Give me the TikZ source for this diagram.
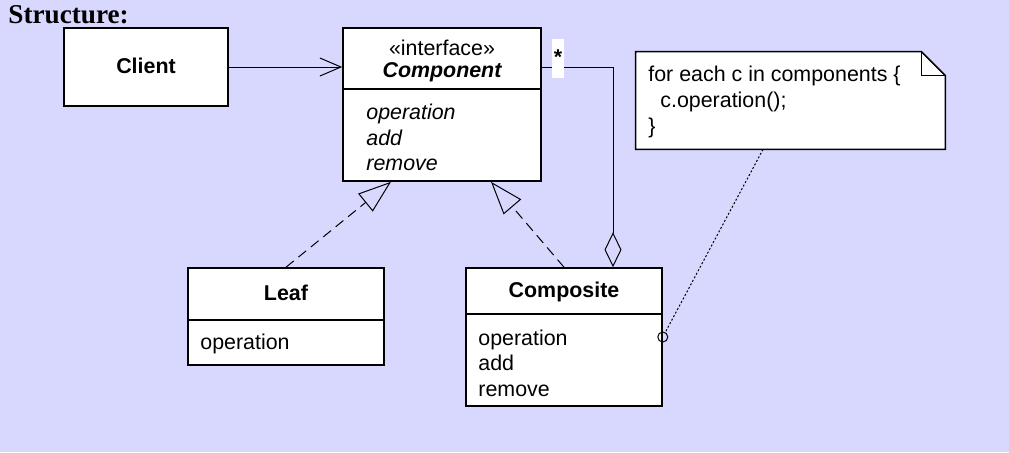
\documentclass[tikz,border=0pt]{standalone}
\usepackage{fontspec}
\setsansfont{Liberation Sans}
\newfontfamily\headfont{Liberation Serif}
\usetikzlibrary{arrows.meta}
\definecolor{lavender}{RGB}{216,216,255}
\newcommand\umlfont{\sffamily\fontsize{10.7}{13}\selectfont}
\tikzset{
  classbox/.style={draw=black, fill=white, line width=0.8pt, inner sep=0pt},
  header/.style={anchor=base, inner sep=0pt, font=\umlfont},
  member/.style={anchor=base west, inner sep=0pt, font=\umlfont},
  realize/.style={dash pattern=on 5pt off 3pt, line width=0.5pt, -{Triangle[open, length=16.5pt, width=11.5pt]}},
}
\begin{document}
\begin{tikzpicture}[x=0.5pt, y=-0.5pt]
\fill[lavender] (0,0) rectangle (1009,452);
\useasboundingbox (0,0) rectangle (1009,452);
\node[anchor=base west, inner sep=0pt, font=\headfont\bfseries\fontsize{13.6}{15}\selectfont] (heading) at (8,23) {Structure:};
% classes
\node[classbox, minimum width=82pt, minimum height=39pt] (client) at (146,67) {};
\node[header, font=\umlfont\bfseries] (clientname) at (146,73) {Client};
\node[classbox, minimum width=99pt, minimum height=76.5pt] (component) at (442,104.5) {};
\draw[line width=0.8pt] (component.west |- 0,89) -- (component.east |- 0,89);
\node[header] (stereo) at (442,55) {«interface»};
\node[header, font=\umlfont\bfseries\itshape] (compname) at (442,77.5) {Component};
\node[member, font=\umlfont\itshape] (compop) at (366,119.5) {operation};
\node[member, font=\umlfont\itshape] (compadd) at (366,145) {add};
\node[member, font=\umlfont\itshape] (comprem) at (366,170.5) {remove};
\node[classbox, minimum width=98pt, minimum height=48.5pt] (leaf) at (286,316.5) {};
\draw[line width=0.8pt] (leaf.west |- 0,320) -- (leaf.east |- 0,320);
\node[header, font=\umlfont\bfseries] (leafname) at (286,300.5) {Leaf};
\node[member] (leafop) at (200,349.5) {operation};
\node[classbox, minimum width=98pt, minimum height=69pt] (composite) at (564,337) {};
\draw[line width=0.8pt] (composite.west |- 0,314) -- (composite.east |- 0,314);
\node[header, font=\umlfont\bfseries] (compositename) at (564,297.5) {Composite};
\node[member] (compositeop) at (478,345) {operation};
\node[member] (compositeadd) at (478,370.5) {add};
\node[member] (compositerem) at (478,396) {remove};
% note
\node[minimum width=154.5pt, minimum height=48.5pt, inner sep=0pt] (note) at (790.5,100.5) {};
\draw[line width=0.8pt, fill=white] (note.south west) -- (note.north west) -- ([xshift=-12pt]note.north east) -- ([yshift=-12pt]note.north east) -- (note.south east) -- cycle;
\draw[line width=0.8pt] ([xshift=-12pt]note.north east) |- ([yshift=-12pt]note.north east);
\node[member] (noteloop) at (648,81) {for each c in components \{};
\node[member] (notecall) at (660,107) {c.operation();};
\node[member] (noteend) at (648,133) {\}};
% connectors
\draw[line width=0.5pt, -{Straight Barb[length=10.5pt, width=9pt]}] (client.east) -- (client.east -| component.west);
\draw[line width=0.5pt, -{Diamond[open, length=17.5pt, width=8.5pt]}] (client.east -| component.east) -| ([xshift=24.5pt]composite.north);
\node[fill=white, inner sep=0pt, minimum width=6pt, minimum height=19.5pt] (multbox) at (558,58.5) {};
\node[anchor=base, inner sep=0pt, font=\umlfont\bfseries] (mult) at (558,64) {*};
\draw[realize] (leaf.north) -- ([xshift=-25.5pt]component.south);
\draw[realize] (composite.north) -- ([xshift=24.5pt]component.south);
\node[circle, draw, line width=0.5pt, inner sep=0pt, minimum size=5pt] (hook) at (composite.east) {};
\draw[line width=0.5pt, dash pattern=on 1pt off 1pt] ([xshift=-13.75pt]note.south) -- (hook);
\end{tikzpicture}
\end{document}
